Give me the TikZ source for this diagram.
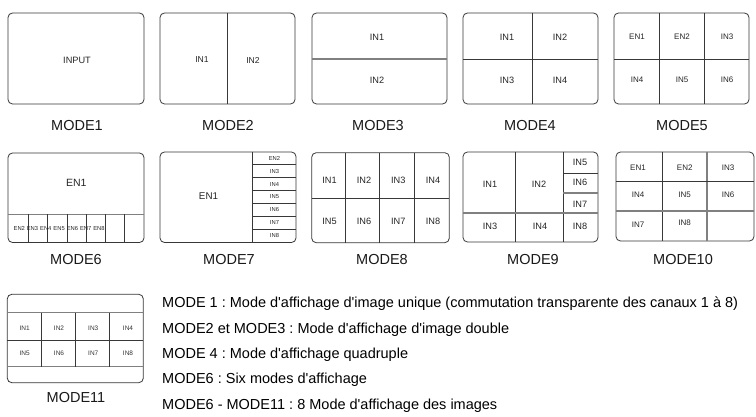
\documentclass[tikz,border=0pt]{standalone}
\usepackage{fontspec}
\setmainfont{Liberation Sans}
\font\bodyfont="Liberation Sans" at 14.5pt
\frenchspacing
\begin{document}
\begin{tikzpicture}[x=1pt,y=-1pt,
  frame/.style={draw=black!78,line width=0.8pt,rounded corners=4.5pt},
  div/.style={draw=black!78,line width=0.7pt},
  gdiv/.style={draw=black!50,line width=1.1pt},
  lab/.style={font=\fontsize{14.5}{16}\selectfont,text=black!90,inner sep=0pt},
  cA/.style={font=\fontsize{8.6}{9}\selectfont,text=black!85,inner sep=0pt},
  cB/.style={font=\fontsize{9.2}{10}\selectfont,text=black!85,inner sep=0pt},
  cC/.style={font=\fontsize{8}{9}\selectfont,text=black!85,inner sep=0pt},
  cD/.style={font=\fontsize{5.8}{6}\selectfont,text=black!85,inner sep=0pt},
  cE/.style={font=\fontsize{6.5}{7}\selectfont,text=black!80,inner sep=0pt},
  txt/.style={anchor=base west,font=\bodyfont\frenchspacing,text=black,inner sep=0pt}]
\useasboundingbox (0,0) rectangle (756,417);
\fill[white] (0,0) rectangle (756,417);

% MODE1
\draw[frame] (8,13) rectangle (144,104);
\node[font=\fontsize{9.2}{10}\selectfont,text=black!85,inner sep=0pt] (m1in) at (77,60) {INPUT};
\node[lab] (m1) at (77,126) {MODE1};

% MODE2
\draw[frame] (160,13) rectangle (295,104);
\draw[div] (227,13) -- (227,104);
\node[cA] (m2a) at (202,60) {IN1};
\node[cA] (m2b) at (253,60) {IN2};
\node[lab] (m2) at (228,126) {MODE2};

% MODE3
\draw[frame] (312,13) rectangle (447,104);
\draw[gdiv] (312,59) -- (447,59);
\node[cB] (m3a) at (377,37) {IN1};
\node[cB] (m3b) at (377,80) {IN2};
\node[lab] (m3) at (378,126) {MODE3};

% MODE4
\draw[frame] (463,13) rectangle (598,104);
\draw[div] (532,13) -- (532,104);
\draw[div] (463,59) -- (598,59);
\node[cB] (m4a) at (507,37) {IN1};
\node[cB] (m4b) at (560,37) {IN2};
\node[cB] (m4c) at (507,80) {IN3};
\node[cB] (m4d) at (560,80) {IN4};
\node[lab] (m4) at (530,126) {MODE4};

% MODE5
\draw[frame] (614,13) rectangle (749,104);
\draw[div] (659,13) -- (659,104);
\draw[div] (704,13) -- (704,104);
\draw[div] (614,59) -- (749,59);
\node[cC] (m5a) at (637,37) {EN1};
\node[cC] (m5b) at (682,37) {EN2};
\node[cC] (m5c) at (727,37) {IN3};
\node[cC] (m5d) at (637,80) {IN4};
\node[cC] (m5e) at (682,80) {IN5};
\node[cC] (m5f) at (727,80) {IN6};
\node[lab] (m5) at (682,126) {MODE5};

% MODE6
\draw[frame] (8,153) rectangle (144,242.5);
\draw[gdiv] (8,214.5) -- (144,214.5);
\foreach \xx in {28.3,47.7,67,86.7,105.7,124.3} {\draw[div] (\xx,214.5) -- (\xx,242.5);}
\node[font=\fontsize{10.5}{11}\selectfont,text=black!85,inner sep=0pt] (m6a) at (76.3,183.3) {EN1};
\node[cD] (m6b) at (19.3,228.7) {EN2};
\node[cD] (m6c) at (32.5,228.7) {EN3};
\node[cD] (m6d) at (45.8,228.7) {EN4};
\node[cD] (m6e) at (59.1,228.7) {EN5};
\node[cD] (m6f) at (72.4,228.7) {EN6};
\node[cD] (m6g) at (85.7,228.7) {EN7};
\node[cD] (m6h) at (99,228.7) {EN8};
\node[lab] (m6) at (76,260) {MODE6};

% MODE7
\draw[frame] (160,152) rectangle (296,242.5);
\draw[div] (252.5,152) -- (252.5,242.5);
\foreach \yy in {164.7,177.7,190.5,203.3,216.3,229.3} {\draw[div] (252.5,\yy) -- (296,\yy);}
\node[font=\fontsize{9.8}{10}\selectfont,text=black!85,inner sep=0pt] (m7a) at (208.5,196) {EN1};
\node[cD] (m7b) at (274.5,158.3) {EN2};
\node[cD] (m7c) at (274.5,171.2) {IN3};
\node[cD] (m7d) at (274.5,184.1) {IN4};
\node[cD] (m7e) at (274.5,196.9) {IN5};
\node[cD] (m7f) at (274.5,209.8) {IN6};
\node[cD] (m7g) at (274.5,222.8) {IN7};
\node[cD] (m7h) at (274.5,235.9) {IN8};
\node[lab] (m7) at (229,260) {MODE7};

% MODE8
\draw[frame] (311.7,152.7) rectangle (449.3,242.7);
\foreach \xx in {345.7,379.3,414.3} {\draw[div] (\xx,152.7) -- (\xx,242.7);}
\draw[div] (311.7,198.3) -- (449.3,198.3);
\node[cB] (m8a) at (329.5,180.5) {IN1};
\node[cB] (m8b) at (364,180.5) {IN2};
\node[cB] (m8c) at (398.3,180.5) {IN3};
\node[cB] (m8d) at (433,180.5) {IN4};
\node[cB] (m8e) at (329.5,221.7) {IN5};
\node[cB] (m8f) at (364,221.7) {IN6};
\node[cB] (m8g) at (398.3,221.7) {IN7};
\node[cB] (m8h) at (433,221.7) {IN8};
\node[lab] (m8) at (382,260) {MODE8};

% MODE9
\draw[frame] (463,152) rectangle (598,242);
\draw[div] (515,152) -- (515,242);
\draw[div] (563,152) -- (563,242);
\draw[gdiv] (463,213) -- (598,213);
\draw[div] (563,173) -- (598,173);
\draw[gdiv] (563,193) -- (598,193);
\node[cB] (m9a) at (490,184) {IN1};
\node[cB] (m9b) at (539,184) {IN2};
\node[cB] (m9e) at (580,162) {IN5};
\node[cB] (m9f) at (580,182) {IN6};
\node[cB] (m9g) at (580,204) {IN7};
\node[cB] (m9c) at (490,226) {IN3};
\node[cB] (m9d) at (540,226) {IN4};
\node[cB] (m9h) at (580,226) {IN8};
\node[lab] (m9) at (533,260) {MODE9};

% MODE10
\draw[frame] (616,152) rectangle (754,241);
\draw[div] (662,152) -- (662,241);
\draw[gdiv] (707,152) -- (707,241);
\draw[div] (616,181.7) -- (754,181.7);
\draw[gdiv] (616,211) -- (754,211);
\node[cC] (mAa) at (638,167.3) {EN1};
\node[cC] (mAb) at (684.7,167.3) {EN2};
\node[cC] (mAc) at (728,167.3) {IN3};
\node[cC] (mAd) at (638,195) {IN4};
\node[cC] (mAe) at (684.7,195) {IN5};
\node[cC] (mAf) at (728,195) {IN6};
\node[cC] (mAg) at (638,225) {IN7};
\node[cC] (mAh) at (684.7,222.7) {IN8};
\node[lab] (mA) at (683,260) {MODE10};

% MODE11
\draw[frame] (7.3,294.3) rectangle (143.3,382.7);
\draw[gdiv] (7.3,312.7) -- (143.3,312.7);
\draw[div] (7.3,340) -- (143.3,340);
\draw[gdiv] (7.3,366.7) -- (143.3,366.7);
\foreach \xx in {41.3,75,109.7} {\draw[div] (\xx,312.7) -- (\xx,366.7);}
\node[cE] (mBa) at (24.7,328.3) {IN1};
\node[cE] (mBb) at (59,328.3) {IN2};
\node[cE] (mBc) at (93.3,328.3) {IN3};
\node[cE] (mBd) at (128,328.3) {IN4};
\node[cE] (mBe) at (24.7,353.3) {IN5};
\node[cE] (mBf) at (59,353.3) {IN6};
\node[cE] (mBg) at (93.3,353.3) {IN7};
\node[cE] (mBh) at (128,353.3) {IN8};
\node[lab] (mB) at (76,398) {MODE11};

% text
\node[txt] (t1) at (162,307.8) {MODE 1 : Mode d'affichage d'image unique (commutation transparente des canaux 1 à 8)};
\node[txt] (t2) at (162,333) {MODE2 et MODE3 : Mode d'affichage d'image double};
\node[txt] (t3) at (162,358.3) {MODE 4 : Mode d'affichage quadruple};
\node[txt] (t4) at (162,383.5) {MODE6 : Six modes d'affichage};
\node[txt] (t5) at (162,409) {MODE6 - MODE11 : 8 Mode d'affichage des images};
\end{tikzpicture}
\end{document}
